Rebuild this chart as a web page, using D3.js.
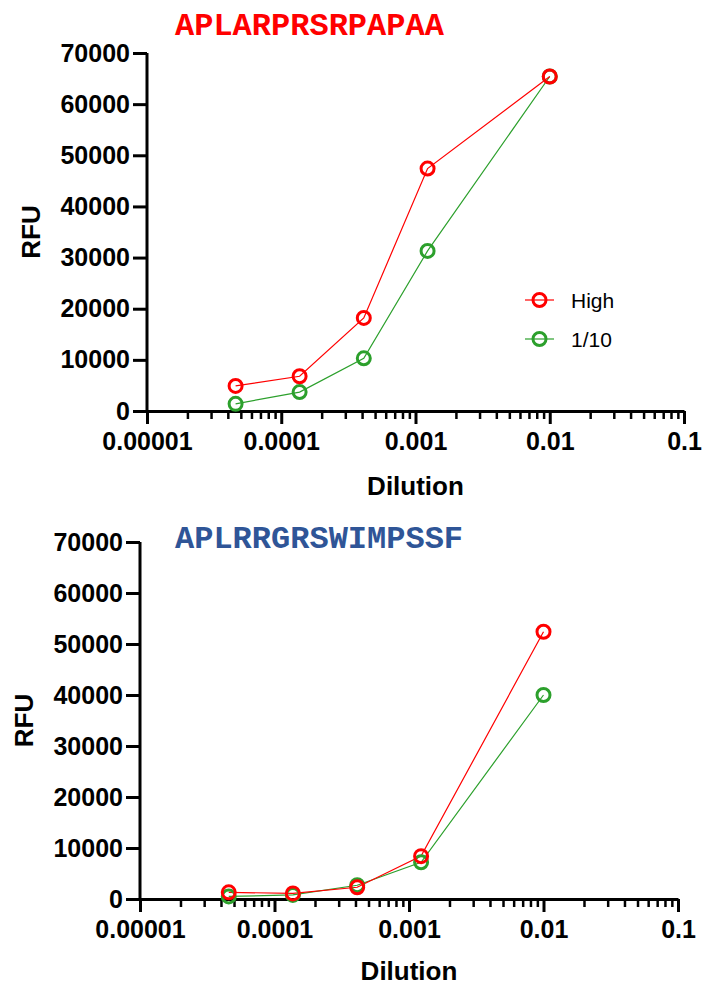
<!DOCTYPE html>
<html>
<head>
<meta charset="utf-8">
<script src="https://cdn.jsdelivr.net/npm/d3@7"></script>
<style>
  html, body { margin: 0; padding: 0; background: #fff; }
  svg { display: block; }
</style>
</head>
<body>
<svg id="chart" width="703" height="985"></svg>
<script>
// ---------- DATA ----------
const dilutions = [0.0000457, 0.000137, 0.000412, 0.00123, 0.01];
const seriesNames = ["High", "1/10"];
const seriesColors = ["#ff0000", "#2ca02c"];

const titleTop = "APLARPRSRPAPAA";
const topHigh = [4900, 6800, 18200, 47400, 65400];
const topLow  = [1400, 3700, 10300, 31300, 65400];

const titleBottom = "APLRRGRSWIMPSSF";
const bottomHigh = [1300, 1100, 2300, 8400, 52400];
const bottomLow  = [500, 800, 2700, 7200, 40000];

const yTicks = [0, 10000, 20000, 30000, 40000, 50000, 60000, 70000];
const xMajorTicks = [0.00001, 0.0001, 0.001, 0.01, 0.1];
const xTickLabels = ["0.00001", "0.0001", "0.001", "0.01", "0.1"];
const xLabel = "Dilution";
const yLabel = "RFU";

// ---------- DRAW ----------
const svg = d3.select("#chart");
const sansBold = "'Liberation Sans', Arial, Helvetica, sans-serif";

function minorTicks() {
  const out = [];
  for (let e = -5; e < -1; e++) {
    for (let m = 2; m <= 9; m++) out.push(m * Math.pow(10, e));
  }
  return out;
}

function drawPanel(cfg) {
  const g = svg.append("g");
  const x = d3.scaleLog().domain([0.00001, 0.1]).range(cfg.xRange);
  const y = d3.scaleLinear().domain([0, 70000]).range(cfg.yRange);

  // title
  g.append("text")
    .attr("x", cfg.titleX).attr("y", cfg.titleY)
    .attr("fill", cfg.titleColor)
    .style("font-family", "'Courier New', 'Liberation Mono', monospace")
    .style("font-weight", "bold")
    .style("font-size", "32px")
    .text(cfg.title);

  // x axis minor
  const xMinor = g.append("g")
    .attr("transform", `translate(0,${cfg.yRange[0]})`)
    .call(d3.axisBottom(x).tickValues(minorTicks()).tickSize(8).tickSizeOuter(0).tickFormat(""));
  xMinor.select(".domain").remove();
  xMinor.selectAll("line").attr("stroke", "#000").attr("stroke-width", 2.5);

  // x axis major
  const xAx = g.append("g")
    .attr("transform", `translate(0,${cfg.yRange[0]})`)
    .call(d3.axisBottom(x).tickValues(xMajorTicks).tickSize(13).tickSizeOuter(0)
      .tickFormat((d, i) => xTickLabels[i]));
  xAx.select(".domain").attr("stroke", "#000").attr("stroke-width", 3);
  xAx.selectAll("line").attr("stroke", "#000").attr("stroke-width", 3);
  xAx.selectAll("text")
    .attr("y", 39).attr("dy", null)
    .attr("fill", "#000")
    .style("font-family", sansBold).style("font-weight", "bold").style("font-size", "25px");

  // y axis
  const yAx = g.append("g")
    .attr("transform", `translate(${cfg.xRange[0]},0)`)
    .call(d3.axisLeft(y).tickValues(yTicks).tickSize(14).tickSizeOuter(0).tickPadding(3)
      .tickFormat(d3.format("d")));
  yAx.select(".domain").attr("stroke", "#000").attr("stroke-width", 3)
    .attr("d", `M0,${cfg.yRange[0] + 1.5}V${cfg.yRange[1]}`);
  yAx.selectAll("line").attr("stroke", "#000").attr("stroke-width", 3);
  yAx.selectAll("text")
    .attr("fill", "#000")
    .style("font-family", sansBold).style("font-weight", "bold").style("font-size", "25px");

  // axis titles
  g.append("text")
    .attr("x", (cfg.xRange[0] + cfg.xRange[1]) / 2)
    .attr("y", cfg.xLabelY)
    .attr("text-anchor", "middle")
    .style("font-family", sansBold).style("font-weight", "bold").style("font-size", "26px")
    .text(xLabel);
  g.append("text")
    .attr("transform", `translate(${cfg.yLabelX},${(cfg.yRange[0] + cfg.yRange[1]) / 2}) rotate(-90)`)
    .attr("text-anchor", "middle")
    .style("font-family", sansBold).style("font-weight", "bold").style("font-size", "26px")
    .text(yLabel);

  // series (draw 1/10 first, High on top)
  const line = d3.line().x((d, i) => x(dilutions[i])).y(d => y(d));
  const order = [1, 0];
  order.forEach(si => {
    const vals = cfg.series[si];
    g.append("path")
      .attr("d", line(vals))
      .attr("fill", "none")
      .attr("stroke", seriesColors[si])
      .attr("stroke-width", 1.2);
  });
  order.forEach(si => {
    const vals = cfg.series[si];
    g.selectAll(null).data(vals).enter().append("circle")
      .attr("cx", (d, i) => x(dilutions[i]))
      .attr("cy", d => y(d))
      .attr("r", 6.5)
      .attr("fill", "none")
      .attr("stroke", seriesColors[si])
      .attr("stroke-width", 3);
  });

  // legend
  if (cfg.legend) {
    seriesNames.forEach((name, i) => {
      const ly = cfg.legend.y + i * cfg.legend.dy;
      const lg = g.append("g");
      lg.append("line")
        .attr("x1", cfg.legend.x).attr("x2", cfg.legend.x + 29)
        .attr("y1", ly).attr("y2", ly)
        .attr("stroke", seriesColors[i]).attr("stroke-width", 1.2);
      lg.append("circle")
        .attr("cx", cfg.legend.x + 14.5).attr("cy", ly).attr("r", 6.5)
        .attr("fill", "none").attr("stroke", seriesColors[i]).attr("stroke-width", 3);
      lg.append("text")
        .attr("x", cfg.legend.x + 46).attr("y", ly + 8)
        .style("font-family", "'Liberation Sans', Arial, sans-serif")
        .style("font-size", "21px")
        .attr("fill", "#000")
        .text(name);
    });
  }
}

drawPanel({
  title: titleTop, titleColor: "#ff0000", titleX: 175, titleY: 35,
  xRange: [147, 684], yRange: [411, 53],
  xLabelY: 495, yLabelX: 40,
  series: [topHigh, topLow],
  legend: { x: 525, y: 300, dy: 39 }
});

drawPanel({
  title: titleBottom, titleColor: "#2f5597", titleX: 175, titleY: 548,
  xRange: [140, 678], yRange: [899, 542],
  xLabelY: 980, yLabelX: 33,
  series: [bottomHigh, bottomLow],
  legend: null
});
</script>
</body>
</html>
